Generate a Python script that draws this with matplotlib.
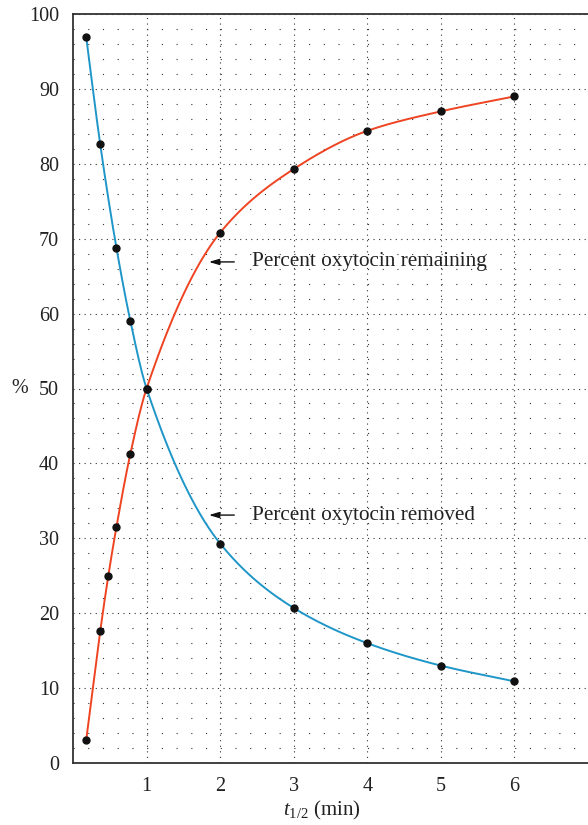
import numpy as np
import matplotlib.pyplot as plt

plt.rcParams['font.family'] = ['Liberation Serif', 'DejaVu Serif']
plt.rcParams['mathtext.fontset'] = 'custom'
plt.rcParams['mathtext.rm'] = 'Liberation Serif'
plt.rcParams['mathtext.it'] = 'Liberation Serif:italic'
plt.rcParams['lines.scale_dashes'] = False

# data
t_removed = [0.18, 0.37, 0.59, 0.78, 1, 2, 3, 4, 5, 6]
removed = [96.9, 82.6, 68.8, 59.0, 50.0, 29.3, 20.7, 16.0, 13.0, 10.9]
t_remaining = [0.18, 0.37, 0.48, 0.59, 0.78, 1, 2, 3, 4, 5, 6]
remaining = [3.1, 17.6, 25.0, 31.5, 41.3, 50.0, 70.8, 79.3, 84.4, 87.0, 89.0]

x_ticks = [1, 2, 3, 4, 5, 6]
y_ticks = [0, 10, 20, 30, 40, 50, 60, 70, 80, 90, 100]


def smooth(x, y, n=400):
    # monotone cubic (pchip) curve through the points, for drawing only
    x = np.asarray(x, float)
    y = np.asarray(y, float)
    h = np.diff(x)
    d = np.diff(y) / h
    m = np.zeros_like(y)
    for k in range(1, len(x) - 1):
        if d[k - 1] * d[k] > 0:
            w1 = 2 * h[k] + h[k - 1]
            w2 = h[k] + 2 * h[k - 1]
            m[k] = (w1 + w2) / (w1 / d[k - 1] + w2 / d[k])
    m[0] = d[0]
    m[-1] = d[-1]
    xs = np.linspace(x[0], x[-1], n)
    i = np.clip(np.searchsorted(x, xs) - 1, 0, len(h) - 1)
    t = (xs - x[i]) / h[i]
    h00 = 2 * t**3 - 3 * t**2 + 1
    h10 = t**3 - 2 * t**2 + t
    h01 = -2 * t**3 + 3 * t**2
    h11 = t**3 - t**2
    ys = h00 * y[i] + h10 * h[i] * m[i] + h01 * y[i + 1] + h11 * h[i] * m[i + 1]
    return xs, ys


fig = plt.figure(figsize=(5.88, 8.25), dpi=100)
ax = fig.add_axes([73 / 588, 1 - 763 / 825, 515 / 588, 749 / 825])
ax.set_xlim(0, 7)
ax.set_ylim(0, 100)

# dotted lattice
ax.set_xticks(x_ticks)
ax.set_yticks(y_ticks)
ax.set_yticks(np.arange(2, 100, 2), minor=True)
ax.grid(which='major', color='#333333', linestyle=(0, (0.8, 3.2)), linewidth=0.8)
ax.grid(which='minor', axis='y', color='#333333', linestyle=(0, (0.8, 9.8)), linewidth=0.8)
ax.tick_params(which='both', length=0)
ax.tick_params(axis='x', pad=10, labelsize=14.5, colors='#222222')
ax.tick_params(axis='y', pad=10, labelsize=14.5, colors='#222222')

for s in ['left', 'bottom', 'top']:
    ax.spines[s].set_color('#333333')
    ax.spines[s].set_linewidth(1.3)
ax.spines['right'].set_visible(False)

xs, ys = smooth(t_removed, removed)
ax.plot(xs, ys, color='#1f96c8', lw=1.4, zorder=3)
xs, ys = smooth(t_remaining, remaining)
ax.plot(xs, ys, color='#ee4422', lw=1.4, zorder=3)
ax.plot(t_removed, removed, 'o', color='#111111', ms=5, zorder=4)
ax.plot(t_remaining, remaining, 'o', color='#111111', ms=5, zorder=4)

arrow = dict(arrowstyle='-|>,head_length=0.6,head_width=0.18', color='#111111', lw=1)
ax.annotate('', xy=(1.81, 66.9), xytext=(2.23, 66.9), arrowprops=arrow)
ax.text(2.43, 66.9, 'Percent oxytocin remaining', fontsize=15.3, va='center', color='#222222')
ax.annotate('', xy=(1.81, 33.1), xytext=(2.23, 33.1), arrowprops=arrow)
ax.text(2.43, 33.1, 'Percent oxytocin removed', fontsize=15.3, va='center', color='#222222')

ax.set_ylabel('%', rotation=0, fontsize=14.5, color='#222222', va='center', ha='center')
ax.yaxis.set_label_coords(-0.103, 0.5)
ax.set_xlabel(r'$t_{1/2}$ (min)', fontsize=15, color='#222222', va='center')
ax.xaxis.set_label_coords(0.483, -0.063)

plt.savefig('out.png')
